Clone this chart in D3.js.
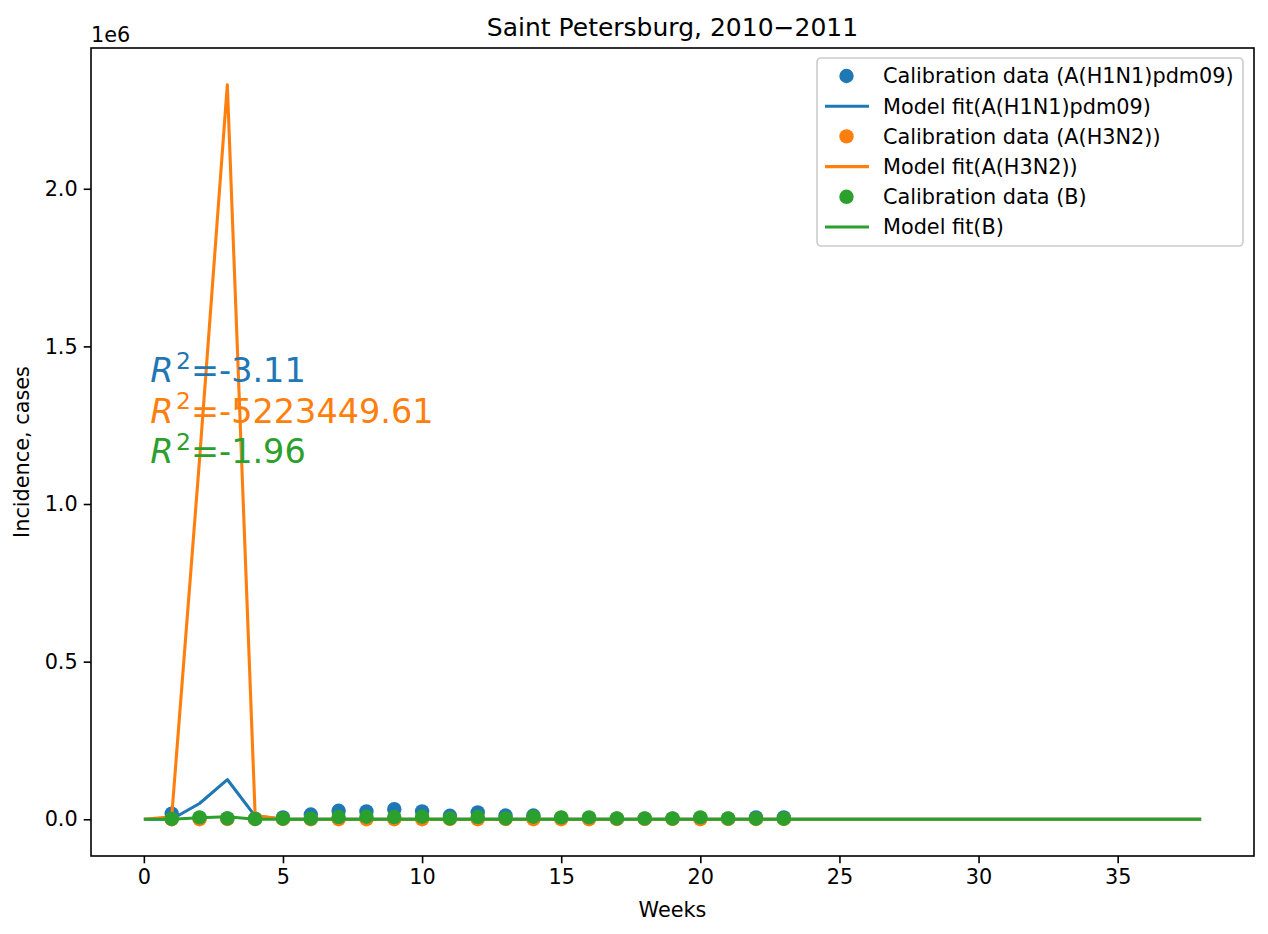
<!DOCTYPE html>
<html>
<head>
<meta charset="UTF-8">
<title>Saint Petersburg, 2010−2011</title>
<script src="https://cdn.jsdelivr.net/npm/d3@7"></script>
<style>
    body { margin: 0; background: #fff; }
    svg { display: block; font-family: 'DejaVu Sans', sans-serif; }
    .tick text { font-size: 20.8px; fill: #000; }
</style>
</head>
<body>
<svg id="chart" width="1268" height="934"></svg>
<script>
    // weeks with calibration data and weeks of the model run
    const weeksData = [1, 2, 3, 4, 5, 6, 7, 8, 9, 10, 11, 12, 13, 14, 15, 16, 17, 18, 19, 20, 21, 22, 23];
    const weeksModel = [0, 1, 2, 3, 4, 5, 6, 7, 8, 9, 10, 11, 12, 13, 14, 15, 16, 17, 18, 19,
                        20, 21, 22, 23, 24, 25, 26, 27, 28, 29, 30, 31, 32, 33, 34, 35, 36, 37, 38];

    // calibration data (cases)
    const dataH1N1 = [18000, 4000, 3000, 2000, 6000, 15000, 27000, 25000, 32000, 25000, 11000, 22000,
                      12000, 12000, 4000, 3000, 2000, 2000, 2000, 3000, 2000, 6000, 6000];
    const dataH3N2 = [0, 0, 1000, 1000, 1000, 0, 0, 0, 0, 0, 1000, 0,
                      1000, 0, 0, 0, 1000, 1000, 1000, 0, 1000, 1000, 1000];
    const dataB = [1000, 6000, 3000, 1000, 2000, 2000, 7000, 8000, 7000, 8000, 3000, 7000,
                   3000, 8000, 6000, 6000, 3000, 3000, 3000, 6000, 3000, 2000, 2000];

    // model fits (cases)
    const fitH1N1 = [0, 0, 50000, 126000, 10000, 0, 0, 0, 0, 0, 0, 0, 0, 0, 0, 0, 0, 0, 0, 0,
                     0, 0, 0, 0, 0, 0, 0, 0, 0, 0, 0, 0, 0, 0, 0, 0, 0, 0, 0];
    const fitH3N2 = [0, 8000, 1140000, 2330000, 12000, 1000, 0, 0, 0, 0, 0, 0, 0, 0, 0, 0, 0, 0, 0, 0,
                     0, 0, 0, 0, 0, 0, 0, 0, 0, 0, 0, 0, 0, 0, 0, 0, 0, 0, 0];
    const fitB = [0, 0, 5000, 8000, 0, 0, 0, 0, 0, 0, 0, 0, 0, 0, 0, 0, 0, 0, 0, 0,
                  0, 0, 0, 0, 0, 0, 0, 0, 0, 0, 0, 0, 0, 0, 0, 0, 0, 0, 0];

    const r2Labels = ['-3.11', '-5223449.61', '-1.96'];
    const xTicks = [0, 5, 10, 15, 20, 25, 30, 35];
    const yTicks = [0, 500000, 1000000, 1500000, 2000000];

    const colors = ['#1f77b4', '#ff7f0e', '#2ca02c'];
    const series = [
        { name: 'A(H1N1)pdm09', pts: dataH1N1, fit: fitH1N1 },
        { name: 'A(H3N2)', pts: dataH3N2, fit: fitH3N2 },
        { name: 'B', pts: dataB, fit: fitB }
    ];

    const axL = 91, axR = 1254, axT = 48, axB = 856;
    const svg = d3.select('#chart');

    // matplotlib style 5% margins
    const xMax = d3.max(weeksModel), xPad = xMax * 0.05;
    const yMax = d3.max([...fitH3N2, ...fitH1N1, ...fitB, ...dataH1N1]), yPad = yMax * 0.05;
    const x = d3.scaleLinear().domain([-xPad, xMax + xPad]).range([axL, axR]);
    const y = d3.scaleLinear().domain([-yPad, yMax + yPad]).range([axB, axT]);

    const plot = svg.append('g');
    const line = d3.line().x((d, i) => x(weeksModel[i])).y(d => y(d));

    // same drawing order as the legend: dots then fit for each strain
    series.forEach((s, k) => {
        plot.append('g').selectAll('circle')
            .data(s.pts)
            .join('circle')
            .attr('cx', (d, i) => x(weeksData[i]))
            .attr('cy', d => y(d))
            .attr('r', 7.2)
            .attr('fill', colors[k]);
        plot.append('path')
            .datum(s.fit)
            .attr('d', line)
            .attr('fill', 'none')
            .attr('stroke', colors[k])
            .attr('stroke-width', 3.1)
            .attr('stroke-linejoin', 'round');
    });

    // R^2 texts
    r2Labels.forEach((lab, k) => {
        const t = svg.append('text')
            .attr('x', axL + 0.051 * (axR - axL))
            .attr('y', 382 + k * 40.5)
            .attr('fill', colors[k])
            .style('font-size', '33.5px');
        t.append('tspan').style('font-style', 'italic').text('R');
        t.append('tspan').attr('dy', -13.5).attr('dx', 2.5).style('font-size', '23.4px').text('2');
        t.append('tspan').attr('dy', 13.5).text('=' + lab);
    });

    // axes
    const xAxis = svg.append('g')
        .attr('transform', `translate(0,${axB})`)
        .call(d3.axisBottom(x).tickValues(xTicks).tickSize(7.3).tickPadding(6).tickFormat(d3.format('d')));
    const yAxis = svg.append('g')
        .attr('transform', `translate(${axL},0)`)
        .call(d3.axisLeft(y).tickValues(yTicks).tickSize(7.3).tickPadding(6).tickFormat(d => (d / 1e6).toFixed(1)));
    [xAxis, yAxis].forEach(a => {
        a.select('.domain').remove();
        a.selectAll('.tick line').attr('stroke', '#000').attr('stroke-width', 1.6);
        a.attr('font-family', null).attr('font-size', null);
    });

    // frame
    svg.append('rect')
        .attr('x', axL).attr('y', axT)
        .attr('width', axR - axL).attr('height', axB - axT)
        .attr('fill', 'none').attr('stroke', '#000').attr('stroke-width', 1.6);

    // labels
    svg.append('text').attr('x', (axL + axR) / 2).attr('y', 36)
        .attr('text-anchor', 'middle').style('font-size', '25px')
        .text('Saint Petersburg, 2010\u22122011');
    svg.append('text').attr('x', (axL + axR) / 2).attr('y', 917)
        .attr('text-anchor', 'middle').style('font-size', '20.8px').text('Weeks');
    svg.append('text').attr('transform', `translate(29,${(axT + axB) / 2}) rotate(-90)`)
        .attr('text-anchor', 'middle').style('font-size', '20.8px').text('Incidence, cases');
    svg.append('text').attr('x', axL).attr('y', 42)
        .style('font-size', '20.8px').text('1e6');

    // legend
    const lg = svg.append('g').attr('transform', 'translate(817,58)');
    lg.append('rect')
        .attr('width', 426).attr('height', 188).attr('rx', 4)
        .attr('fill', '#fff').attr('fill-opacity', 0.8)
        .attr('stroke', '#cccccc').attr('stroke-width', 1.6);
    series.forEach((s, k) => {
        const y1 = 18 + (2 * k) * 30.2, y2 = 18 + (2 * k + 1) * 30.2;
        lg.append('circle').attr('cx', 29.5).attr('cy', y1).attr('r', 7.2).attr('fill', colors[k]);
        lg.append('text').attr('x', 66).attr('y', y1).attr('dy', '0.36em')
            .style('font-size', '20.8px').text(`Calibration data (${s.name})`);
        lg.append('line').attr('x1', 8).attr('x2', 52).attr('y1', y2).attr('y2', y2)
            .attr('stroke', colors[k]).attr('stroke-width', 3.1);
        lg.append('text').attr('x', 66).attr('y', y2).attr('dy', '0.36em')
            .style('font-size', '20.8px').text(`Model fit(${s.name})`);
    });
</script>
</body>
</html>
